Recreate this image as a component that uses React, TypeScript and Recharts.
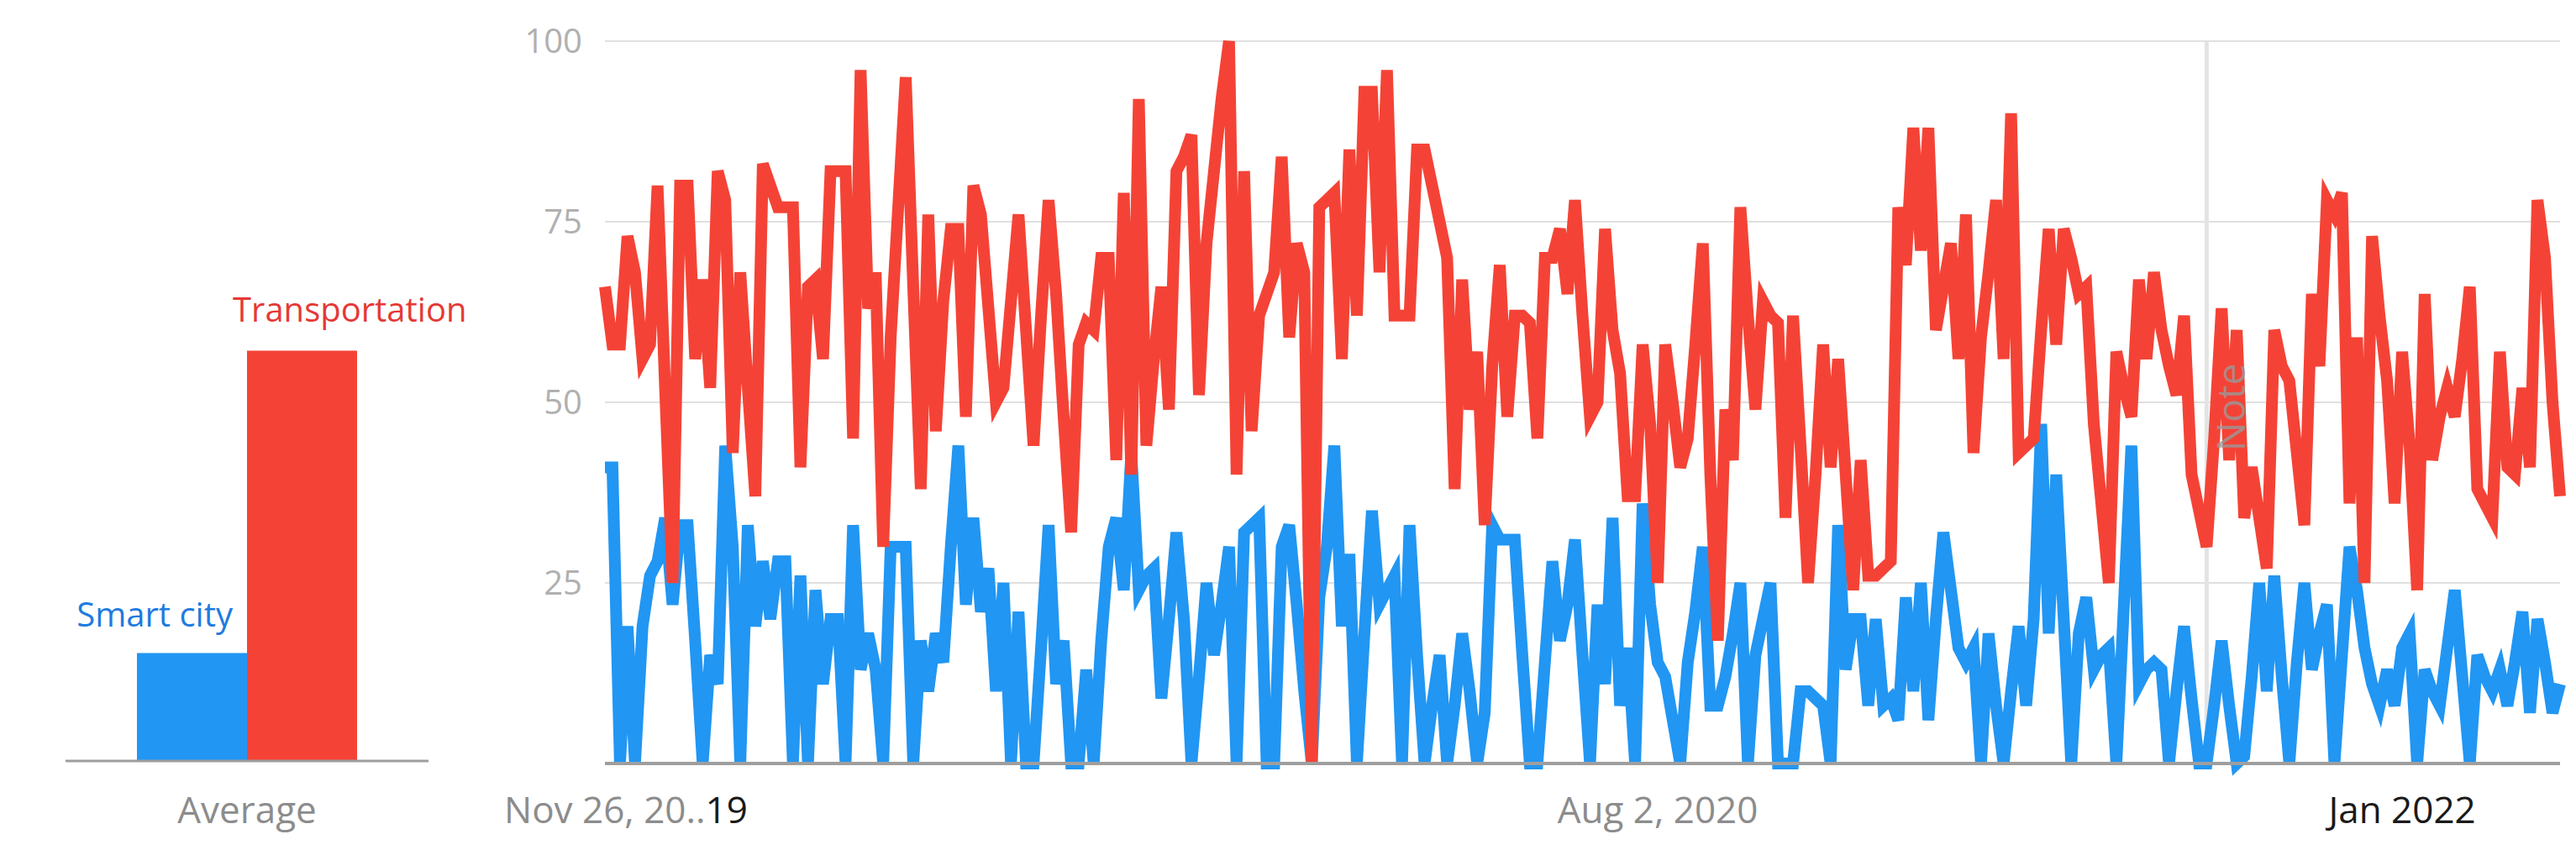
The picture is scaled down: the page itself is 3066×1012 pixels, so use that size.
import { BarChart, Bar, LabelList, LineChart, Line, XAxis, YAxis, CartesianGrid, ReferenceLine } from 'recharts'

const FONT = '"Open Sans", "Noto Sans", sans-serif'
const BLUE = '#2196f3'
const RED = '#f44336'

// weekly interest, Nov 26 2017 .. Nov 2022 (index = week number)
const smartCity = [
  41,41,0,19,0,19,26,28,34,22, 33,33,17,0,15,11,44,30,0,33, 19,28,20,28,28,0,26,0,24,11,
  20,20,0,33,13,18,13,0,30,30,
  30,0,17,10,18,14,30,44,22,34, 21,27,10,25,0,21,0,0,16,33, 11,17,0,0,13,0,17,30,34,24,
  43,24,26,27,9,20,32,20,0,12, 25,15,22,30,0,
  32,33,34,0,0,30,33,22,10,0, 23,30,44,19,29,0,18,35,22,24, 26,0,33,15,0,8,15,0,8,18,
  10,0,7,33,31,31,31,15,0,0, 14,28,17,
  22,31,15,0,22,11,34,8,16,0, 36,22,14,12,6,0,14,21,30,8, 8,12,18,25,0,15,20,25,0,0,
  0,10,10,9,8,0,33,13,20,20, 8,20,
  8,9,6,23,10,25,6,20,32,24, 16,14,16,0,18,8,0,10,19,8, 20,47,18,40,20,0,18,23,13,15,
  16,0,22,44,11,13,14,13,0,10, 19,9,0,
  0,8,17,8,0,1,12,25,10,26, 12,0,14,25,13,18,22,0,15,30, 24,16,11,8,13,8,16,18,0,13,
  10,8,16,24,12,0,15,12,10,13, 8,14,21,7,20,14,7,11,
]

const transportation = [
  66,58,58,73,68,56,58,80,52,25, 80,80,56,67,52,82,78,43,68,52, 37,83,80,77,77,77,41,66,67,56,
  82,82,82,45,96,63,68,30,59,77, 95,66,38,76,
  46,64,74,74,48,80,76,63,50,52, 64,76,60,44,62,78,65,48,32,58, 61,60,70,70,42,79,40,92,44,56,
  66,49,82,84,87,51,72,82,92,100, 40,
  82,46,62,65,68,84,59,72,68,0, 77,78,79,56,85,62,93,93,68,96, 62,62,62,85,85,80,75,70,38,67,
  49,57,33,55,69,48,62,62,61,45, 70,70,74,
  65,78,62,48,50,74,60,54,37,37, 58,47,25,58,50,41,45,58,72,40, 17,49,42,77,62,49,64,62,61,34,
  62,44,25,40,58,41,56,40,24,42, 26,
  26,27,28,77,69,88,71,88,60,66, 72,56,76,43,59,68,78,56,90,43, 44,45,60,74,58,74,70,65,66,47,
  36,25,57,52,48,67,56,68,60,55, 51,62,40,35,
  30,45,63,42,60,34,41,34,27,60, 55,53,43,33,65,55,78,76,79,36, 59,25,73,62,53,36,57,44,24,65,
  42,48,52,48,56,66,38,36,34,57, 41,40,52,41,78,70,50,37,
]

const yTicks = [25, 50, 75, 100]
const xTickWeeks = [0, 140, 239]
const xTickLabels = ['Nov 26, 20..', 'Aug 2, 2020', 'Jan 2022']
const noteWeek = 213

const avgNames = ['Average']
const avgSmart = [15]
const avgTransport = [57]

const weekly = smartCity.map((v, i) => ({ week: i, smart: v, transport: transportation[i] }))
const averages = avgNames.map((n, i) => ({ name: n, smart: avgSmart[i], transport: avgTransport[i] }))

function MainTick({ x, y, payload }: any) {
  const idx = xTickWeeks.indexOf(payload.value)
  const ty = y + 69
  if (idx === 0) {
    return (
      <text x={x - 120} y={ty} textAnchor="start" fontSize={44} fontFamily={FONT} fill="#8c8c8c">
        {xTickLabels[0]}<tspan fill="#1a1a1a">19</tspan>
      </text>
    )
  }
  return (
    <text x={x} y={ty} textAnchor="middle" fontSize={44} fontFamily={FONT}
      fill={idx === 2 ? '#1a1a1a' : '#8c8c8c'}>
      {xTickLabels[idx]}
    </text>
  )
}

function AvgTick({ x, y, payload }: any) {
  return (
    <text x={x} y={y + 72} textAnchor="middle" fontSize={44} fontFamily={FONT} fill="#8c8c8c">
      {payload.value}
    </text>
  )
}

function NoteLabel({ viewBox }: any) {
  const x = viewBox.x + 46
  const y = viewBox.y + viewBox.height / 2 + 6
  return (
    <text x={x} y={y} transform={`rotate(-90 ${x} ${y})`} textAnchor="middle" fontSize={46}
      fontFamily={FONT} fill="#9a9a9a" fillOpacity={0.8}>Note</text>
  )
}

export default function App() {
  return (
    <div style={{ position: 'absolute', left: 0, top: 0, width: 3066, height: 1012, background: '#fff' }}>
      <div style={{ position: 'absolute', left: 78, top: 0 }}>
        <BarChart width={520} height={1012} data={averages} margin={{ top: 49, right: 88, bottom: 46, left: 0 }}
          barGap={0} barSize={131}>
          <YAxis hide domain={[0, 100]} />
          <XAxis dataKey="name" height={60} tickLine={false} tickSize={0}
            axisLine={{ stroke: '#9e9e9e', strokeWidth: 3 }} tick={<AvgTick />} />
          <Bar dataKey="smart" fill={BLUE} isAnimationActive={false}>
            <LabelList dataKey="smart" content={(p: any) => (
              <text x={p.x + p.width - 17} y={p.y - 31} textAnchor="end" fontSize={40}
                fontFamily={FONT} fill="#1e7be0">Smart city</text>
            )} />
          </Bar>
          <Bar dataKey="transport" fill={RED} isAnimationActive={false}>
            <LabelList dataKey="transport" content={(p: any) => (
              <text x={p.x - 17} y={p.y - 35} textAnchor="start" fontSize={40}
                fontFamily={FONT} fill="#e53935">Transportation</text>
            )} />
          </Bar>
        </BarChart>
      </div>

      <div style={{ position: 'absolute', left: 0, top: 0 }}>
        <LineChart width={3066} height={1012} data={weekly} margin={{ top: 49, right: 19, bottom: 43, left: 640 }}>
          <CartesianGrid vertical={false} stroke="#e0e0e0" strokeWidth={2} />
          <XAxis dataKey="week" type="number" domain={[0, 260]} ticks={xTickWeeks} interval={0}
            height={60} tickLine={false} tickSize={0}
            axisLine={{ stroke: '#9e9e9e', strokeWidth: 4 }} tick={<MainTick />} />
          <YAxis domain={[0, 100]} ticks={yTicks} interval={0} width={80} axisLine={false}
            tickLine={false} tickSize={0} tickMargin={27}
            tick={{ fontSize: 40, fill: '#b0b0b0', fontFamily: FONT }} />
          <ReferenceLine x={noteWeek} stroke="#e3e3e3" strokeWidth={5} />
          <Line type="linear" dataKey="smart" stroke={BLUE} strokeWidth={14} dot={false}
            isAnimationActive={false} />
          <Line type="linear" dataKey="transport" stroke={RED} strokeWidth={14} dot={false}
            isAnimationActive={false} />
          <ReferenceLine x={noteWeek} stroke="none" label={<NoteLabel />} />
        </LineChart>
      </div>
    </div>
  )
}
